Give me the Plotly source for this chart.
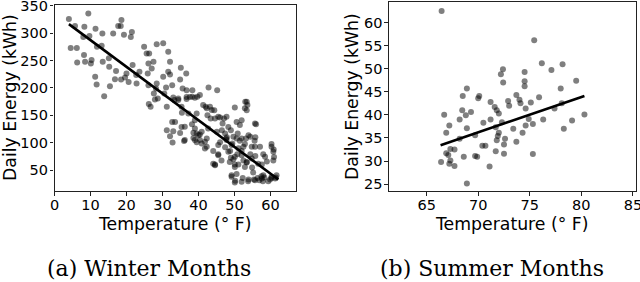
import plotly.graph_objects as go

# ---------------- data ----------------
winter_temp = [4.0, 9.4, 5.7, 8.3, 11.4, 13.3, 16.3, 18.4, 18.6, 17.7, 19.3, 21.5, 21.2, 8.0, 9.7,
               4.5, 6.2, 6.3, 8.5, 10.1, 10.3, 8.2, 11.8, 13.1, 13.4, 15.1, 15.2, 16.8, 17.1, 15.4,
               13.8, 11.7, 11.3, 18.5, 19.6, 20.0, 20.6, 21.7, 22.7, 22.8, 23.6, 24.9, 25.6, 26.3, 27.5,
               27.0, 26.1, 25.9, 26.1, 26.2, 26.7, 27.6, 28.2, 28.4, 27.9, 28.7, 30.2, 30.5, 31.0, 31.6,
               32.1, 31.6, 32.1, 31.2, 31.2, 32.1, 32.7, 33.5, 33.0, 30.2, 28.4, 32.7, 33.3, 34.4, 34.9,
               35.1, 36.6, 35.3, 35.4, 35.6, 36.2, 36.7, 37.6, 38.3, 36.7, 38.3, 37.2, 39.5, 39.7, 40.4,
               38.2, 39.0, 39.5, 38.6, 40.0, 40.4, 40.9, 42.5, 42.0, 42.8, 41.3, 43.2, 43.4, 44.6, 45.2,
               44.4, 45.5, 46.0, 46.7, 46.5, 47.1, 47.4, 47.7, 48.3, 49.0, 49.4, 49.7, 50.1, 50.6, 50.9,
               51.5, 52.0, 52.5, 53.0, 53.4, 53.6, 53.2, 53.9, 54.4, 55.7, 56.0, 57.1, 60.3,
               32.8, 36.0, 33.0, 34.9, 38.6, 39.5, 40.4, 41.8, 42.3, 44.1, 44.1, 44.6, 45.5, 46.0, 47.4,
               47.9, 48.8, 49.0, 49.7, 49.2, 50.1, 50.2, 50.6, 50.8, 51.1, 51.5, 52.0, 52.3, 52.5, 52.9,
               53.4, 53.9, 54.4, 54.9, 55.4, 55.6, 55.8, 56.4, 56.9, 57.5, 57.6, 57.9, 58.0, 58.3, 59.0,
               60.3, 60.3, 60.9, 61.0, 61.5, 61.7, 59.9, 55.2, 55.8,
               34.4, 36.7, 39.0, 53.4, 52.9, 42.3, 43.7, 47.8, 52.0, 55.7, 39.0, 35.3, 40.9, 42.7, 45.1,
               36.2, 39.0, 41.8, 42.3, 45.5, 47.8, 49.2, 50.6, 54.8, 60.8, 51.1, 52.0, 50.1, 48.3, 45.5,
               46.4, 44.6, 48.7, 50.1, 52.9, 53.4, 54.8, 56.6, 58.5, 60.8, 49.2, 50.1, 52.0, 53.8, 55.7,
               57.6, 59.4, 61.3, 60.3, 58.0]
winter_energy = [325.7, 336, 313, 311.7, 308, 299.5, 299.5, 313, 324, 313, 297, 302, 293, 293, 295,
                 273, 273, 246.6, 248, 244.8, 251, 260, 275, 277, 247.8, 254, 238.7, 216, 231, 203,
                 185, 206.4, 220.4, 215.6, 219, 226.5, 211, 241.7, 223.5, 208.3, 229.6, 275.2, 263, 263, 248,
                 235.6, 244.8, 226.5, 205, 170.6, 165.7, 190, 199, 208, 179, 181, 220.4, 190, 201, 229.6,
                 248, 266, 224.7, 165.7, 123, 112, 138, 138, 182.6, 281.4, 279.6, 205, 177.9, 177.9, 215.6,
                 236.9, 226.5, 165.7, 154.8, 199, 129.2, 183.8, 183.8, 184, 196, 196, 153.5, 153.5, 184, 187,
                 134, 126, 117, 118.3, 114, 105, 98.8, 150.5, 165.7, 201, 168.8, 165.7, 144.4, 144.4, 196,
                 159.6, 147.4, 146.2, 135.3, 123, 144.4, 117, 108, 129, 123, 98.8, 111, 164.5, 138, 117,
                 132.3, 108, 92.7, 174.8, 159.6, 168.8, 108, 114, 111, 92.7, 134, 92.7, 92.7,
                 100.5, 103.5, 121, 118, 109, 101, 115, 89.7, 108, 85, 62, 60.7, 79, 101, 92,
                 110, 85, 73, 70, 41, 60.7, 31, 43, 79, 60.7, 104, 85, 36, 68, 98,
                 64, 33, 79, 55, 33, 104, 76, 36, 32, 39, 60.7, 30, 79, 37, 66,
                 98, 36, 88, 74, 37, 41, 33, 46, 110,
                 181, 180, 182, 175, 163, 163, 160, 147.5, 141.4, 135.4, 141.4, 129, 120, 126, 120,
                 105, 105, 102, 93, 96, 105, 96, 108, 93, 83.6, 90, 77.6, 74.5, 83.6, 77.6,
                 68, 59, 65, 56, 56, 65, 71.5, 62, 74.5, 68, 38, 27.7, 29, 30, 32,
                 35, 30, 35, 38, 41]
winter_fit_temp = [4.0, 62.2]
winter_fit_energy = [316.5, 33.2]

summer_temp = [66.45, 75.43, 76.17, 78.18, 77.1, 72.4, 72.2, 74.5, 72.42, 74.5, 74.5, 79.5, 68.9, 78.0, 68.5,
               70.1, 70.0, 73.7, 75.9, 74.0, 71.2, 72.9, 74.1, 75.1, 71.6, 71.8, 72.0, 73.0, 74.6, 77.4,
               78.1, 68.45, 69.3, 68.8, 68.2, 66.7, 67.2, 66.9, 68.9, 71.2, 70.5, 72.3, 71.7, 73.4, 74.3,
               74.6, 74.9, 75.3, 76.3, 79.1, 80.3, 78.3, 69.7, 72.0, 71.9, 71.8, 72.6, 73.7, 72.5, 68.2,
               67.3, 67.7, 66.9, 67.1, 66.4, 67.3, 67.2, 67.7, 68.6, 69.7, 69.9, 70.4, 70.7, 71.7, 72.5,
               71.1, 75.3, 68.9]
summer_energy = [62.5, 56.2, 51.2, 50.96, 49.7, 49.9, 48.8, 49.3, 47.0, 47.3, 46.2, 47.4, 45.7, 45.7, 44.1,
                 44.1, 43.6, 44.3, 43.8, 43.3, 42.8, 43.0, 42.5, 42.7, 41.7, 41.0, 40.3, 42.0, 41.4, 41.4,
                 42.5, 41.0, 40.6, 39.9, 39.0, 40.0, 37.7, 36.1, 37.1, 39.0, 38.3, 38.4, 37.3, 37.0, 36.1,
                 37.7, 39.1, 38.0, 39.0, 38.8, 40.1, 37.0, 35.6, 36.1, 35.4, 34.5, 34.8, 34.2, 33.6, 34.8,
                 32.6, 32.5, 31.7, 31.3, 29.8, 30.1, 29.4, 28.9, 30.9, 31.1, 30.9, 33.3, 33.3, 32.1, 31.6,
                 28.8, 31.5, 25.1]
summer_fit_temp = [66.35, 80.3]
summer_fit_energy = [33.4, 44.1]

winter_xticks = [0, 10, 20, 30, 40, 50, 60]
winter_yticks = [50, 100, 150, 200, 250, 300, 350]
summer_xticks = [65, 70, 75, 80, 85]
summer_yticks = [25, 30, 35, 40, 45, 50, 55, 60]

x_title = "Temperature (° F)"
y_title = "Daily Energy (kWh)"
captions = ["(a) Winter Months", "(b) Summer Months"]

# ---------------- figure ----------------
W, H = 640, 282
def px(x):
    return x / W
def py(y):
    return 1 - y / H

marker = dict(color="black", opacity=0.5, size=6, line=dict(width=0))
fig = go.Figure()
fig.add_trace(go.Scatter(x=winter_temp, y=winter_energy, mode="markers", marker=marker,
                         xaxis="x", yaxis="y", showlegend=False, cliponaxis=False))
fig.add_trace(go.Scatter(x=winter_fit_temp, y=winter_fit_energy, mode="lines",
                         line=dict(color="black", width=2.6), xaxis="x", yaxis="y", showlegend=False))
fig.add_trace(go.Scatter(x=summer_temp, y=summer_energy, mode="markers", marker=marker,
                         xaxis="x2", yaxis="y2", showlegend=False, cliponaxis=False))
fig.add_trace(go.Scatter(x=summer_fit_temp, y=summer_fit_energy, mode="lines",
                         line=dict(color="black", width=2.6), xaxis="x2", yaxis="y2", showlegend=False))

tickfont = dict(family="DejaVu Sans", size=14.5, color="black")
axis_common = dict(showgrid=False, zeroline=False, showline=True, mirror=True, linecolor="#222",
                   linewidth=1.1, ticks="outside", ticklen=3.5, tickwidth=1, tickcolor="#222",
                   tickfont=tickfont, automargin=False, ticklabeloverflow="allow")

fig.update_layout(
    width=W, height=H, margin=dict(l=0, r=0, t=0, b=0),
    plot_bgcolor="white", paper_bgcolor="white",
    xaxis=dict(domain=[px(54.5), px(296)], range=[0, 67.1], tickvals=winter_xticks,
               anchor="y", ticklabelstandoff=-3, **axis_common),
    yaxis=dict(domain=[py(191), py(5)], range=[12.2, 351.3], tickvals=winter_yticks,
               anchor="x", ticklabelstandoff=-1, **axis_common),
    xaxis2=dict(domain=[px(389), px(636)], range=[61.35, 85.3], tickvals=summer_xticks,
                anchor="y2", ticklabelstandoff=-3, **axis_common),
    yaxis2=dict(domain=[py(191), py(2.3)], range=[23.5, 64.4], tickvals=summer_yticks,
                anchor="x2", ticklabelstandoff=-1, **axis_common),
)

title_font = dict(family="DejaVu Sans", size=17.3, color="black")
cap_font = dict(family="DejaVu Serif", size=22, color="black")
ann = [
    dict(x=px(175), y=py(224), text=x_title, font=title_font),
    dict(x=px(512), y=py(224), text=x_title, font=title_font),
    dict(x=px(10), y=py(98), text=y_title, font=title_font, textangle=-90),
    dict(x=px(352), y=py(97), text=y_title, font=title_font, textangle=-90),
    dict(x=px(149), y=py(268), text=captions[0], font=cap_font),
    dict(x=px(492), y=py(268), text=captions[1], font=cap_font),
]
for a in ann:
    a.update(xref="paper", yref="paper", showarrow=False, xanchor="center", yanchor="middle")
fig.update_layout(annotations=ann)

fig.write_html("out.html", config={"displayModeBar": False},
               post_script="document.body.style.margin='0';document.body.style.padding='0';")
